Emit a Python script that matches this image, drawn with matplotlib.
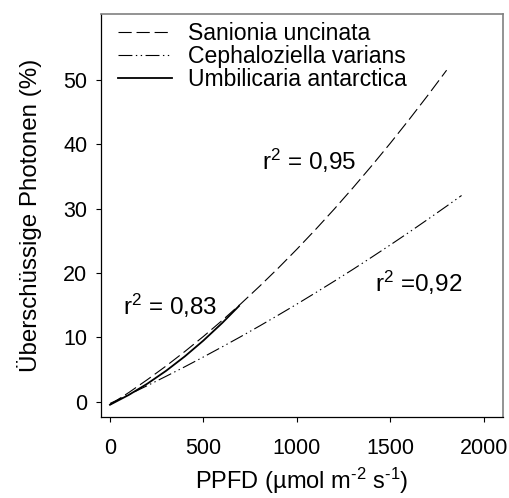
import matplotlib
matplotlib.use("Agg")
import matplotlib.pyplot as plt

plt.rcParams['font.family'] = ['Liberation Sans', 'DejaVu Sans']
plt.rcParams['mathtext.fontset'] = 'custom'
plt.rcParams['mathtext.rm'] = 'Liberation Sans'
plt.rcParams['mathtext.it'] = 'Liberation Sans'
plt.rcParams['lines.scale_dashes'] = False

# Data
x_sanionia = [0, 100, 200, 300, 400, 500, 600, 700, 800, 900, 1000, 1100, 1200,
              1300, 1400, 1500, 1600, 1700, 1800]
y_sanionia = [-0.5, 1.39, 3.41, 5.53, 7.78, 10.14, 12.62, 15.22, 17.94, 20.77, 23.72,
              26.79, 29.97, 33.28, 36.70, 40.23, 43.89, 47.66, 51.55]

x_cephalo = [0, 100, 200, 300, 400, 500, 600, 700, 800, 900, 1000, 1100, 1200,
             1300, 1400, 1500, 1600, 1700, 1800, 1880]
y_cephalo = [-0.3, 1.07, 2.48, 3.93, 5.41, 6.94, 8.51, 10.11, 11.76, 13.45, 15.17,
             16.94, 18.74, 20.58, 22.47, 24.39, 26.35, 28.36, 30.40, 32.06]

x_umbil = [0, 100, 200, 300, 400, 500, 600, 690]
y_umbil = [-0.5, 1.02, 2.78, 4.78, 7.02, 9.5, 12.22, 14.87]

labels = ["Sanionia uncinata", "Cephaloziella varians", "Umbilicaria antarctica"]
r2_texts = ["r$^2$ = 0,95", "r$^2$ =0,92", "r$^2$ = 0,83"]
x_ticks = [0, 500, 1000, 1500, 2000]
y_ticks = [0, 10, 20, 30, 40, 50]

fig = plt.figure(figsize=(5.09, 4.98), dpi=100)
ax = fig.add_axes([0.1984, 0.1627, 0.7896, 0.8092])

ax.plot(x_sanionia, y_sanionia, color='black', lw=0.8, dashes=(9.5, 3.5), label=labels[0])
ax.plot(x_cephalo, y_cephalo, color='black', lw=0.8,
        dashes=(10, 2.5, 1, 2.5, 1, 2.5), label=labels[1])
ax.plot(x_umbil, y_umbil, color='black', lw=1.3, label=labels[2])

ax.set_xlim(-48, 2101)
ax.set_ylim(-2.4, 60.3)
ax.set_xticks(x_ticks)
ax.set_yticks(y_ticks)
ax.tick_params(direction='out', length=3.5, width=0.8, labelsize=15.5, colors='black')
ax.tick_params(axis='y', pad=6.3)
ax.tick_params(axis='x', pad=11.5)

for s in ['top', 'right']:
    ax.spines[s].set_color('#808080')
    ax.spines[s].set_linewidth(1.2)
for s in ['left', 'bottom']:
    ax.spines[s].set_color('black')
    ax.spines[s].set_linewidth(0.9)

ax.set_xlabel("PPFD (µmol m$^{\\text{-}2}$ s$^{\\text{-}1}$)", fontsize=17, labelpad=5)
ax.set_ylabel("Überschüssige Photonen (%)", fontsize=17.4, labelpad=15)

ax.text(811, 36.1, r2_texts[0], fontsize=17.5, ha='left', va='baseline')
ax.text(1417, 17.1, r2_texts[1], fontsize=17.5, ha='left', va='baseline')
ax.text(71, 13.5, r2_texts[2], fontsize=17.5, ha='left', va='baseline')

leg = ax.legend(loc='upper left', frameon=False, fontsize=16.6, handlelength=2.33,
                handletextpad=0.72, labelspacing=0.0, borderaxespad=0.0, borderpad=0.0,
                bbox_to_anchor=(0.042, 0.979))

fig.savefig("out.png", dpi=100)
